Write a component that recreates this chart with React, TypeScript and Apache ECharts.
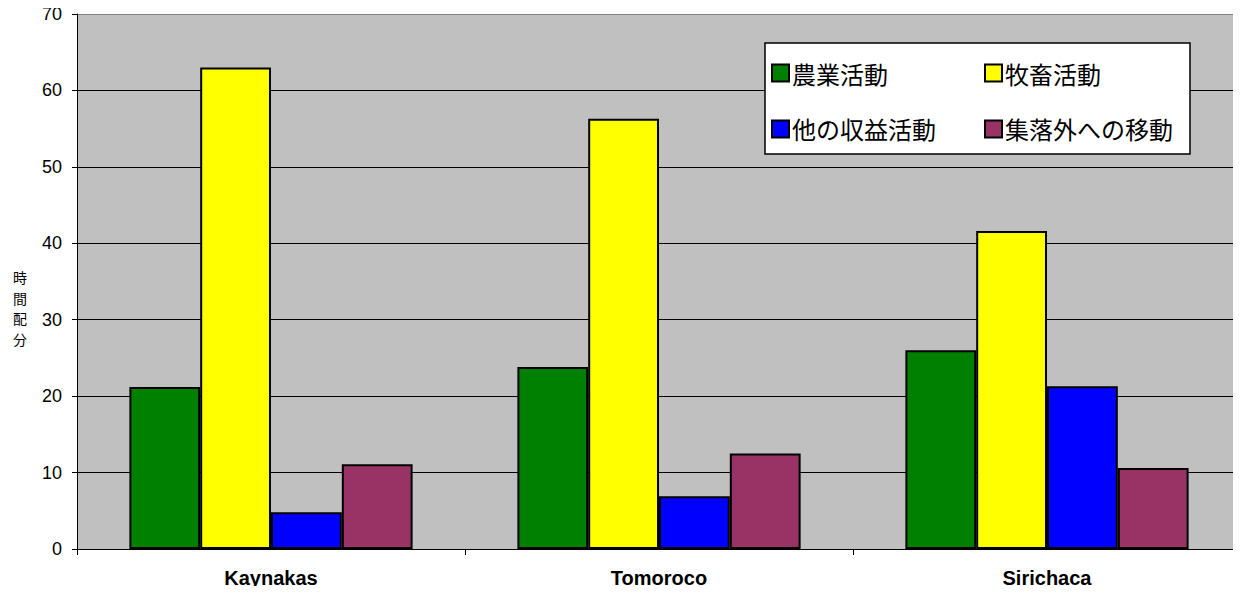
import React, { useEffect, useRef } from "react";
import * as echarts from "echarts";

// Villages and time shares (%) by activity
const villages = ["Kaynakas", "Tomoroco", "Sirichaca"];
const seriesNames = ["農業活動", "牧畜活動", "他の収益活動", "集落外への移動"];
const farming = [21.2, 23.8, 26.0];
const herding = [63.0, 56.3, 41.6];
const otherIncome = [4.8, 6.9, 21.3];
const migration = [11.1, 12.5, 10.6];
const seriesColors = ["#008000", "#ffff00", "#0000ff", "#993366"];
const yTicks = { min: 0, max: 70, interval: 10 };

const latin = "'Liberation Sans', Arial, sans-serif";
const cjk = "'Noto Sans CJK JP', 'Noto Sans CJK SC', sans-serif";

export default function App() {
  const ref = useRef<HTMLDivElement>(null);

  useEffect(() => {
    if (!ref.current) return;
    const chart = echarts.init(ref.current, undefined, { renderer: "svg" });
    const values = [farming, herding, otherIncome, migration];

    const legendCommon = {
      orient: "vertical" as const,
      itemWidth: 17,
      itemHeight: 17,
      itemGap: 32,
      icon: "rect",
      itemStyle: { borderColor: "#000", borderWidth: 2 },
      textStyle: { fontSize: 24, fontFamily: cjk, color: "#000", padding: [0, 0, 0, -2] },
      selectedMode: false,
      padding: 0,
    };

    chart.setOption({
      animation: false,
      backgroundColor: "#ffffff",
      grid: {
        left: 77,
        right: 0,
        top: 14,
        bottom: 45,
        show: true,
        backgroundColor: "#c0c0c0",
        borderWidth: 0,
      },
      graphic: [
        {
          type: "rect",
          shape: { x: 765, y: 43, width: 425, height: 111 },
          style: { fill: "#ffffff", stroke: "#000000", lineWidth: 1.5 },
          z: 5,
        },
        {
          type: "text",
          x: 20,
          y: 308,
          style: {
            text: "時\n間\n配\n分",
            fontSize: 14,
            lineHeight: 20.5,
            fontFamily: cjk,
            fill: "#000",
            align: "center",
            verticalAlign: "middle",
          },
        },
      ],
      legend: [
        { ...legendCommon, left: 771, top: 61, data: [seriesNames[0], seriesNames[2]], z: 10 },
        { ...legendCommon, left: 984, top: 61, data: [seriesNames[1], seriesNames[3]], z: 10 },
      ],
      xAxis: {
        type: "category",
        data: villages,
        axisLine: { show: true, lineStyle: { color: "#000", width: 1 } },
        axisTick: { show: true, alignWithLabel: false, length: 6, lineStyle: { color: "#000" } },
        axisLabel: {
          fontSize: 20,
          fontWeight: "bold",
          fontFamily: latin,
          color: "#000",
          margin: 19,
        },
      },
      yAxis: {
        type: "value",
        min: yTicks.min,
        max: yTicks.max,
        interval: yTicks.interval,
        axisLine: { show: true, lineStyle: { color: "#000", width: 1 } },
        axisTick: { show: true, length: 5, lineStyle: { color: "#000" } },
        axisLabel: { fontSize: 18, fontFamily: latin, color: "#000", margin: 15 },
        splitLine: {
          show: true,
          lineStyle: {
            color: ["#000", "#000", "#000", "#000", "#000", "#000", "#000", "#808080"],
            width: 1,
          },
        },
      },
      series: seriesNames.map((name, i) => ({
        name,
        type: "bar",
        data: values[i],
        barGap: "0%",
        barCategoryGap: "27%",
        itemStyle: { color: seriesColors[i], borderColor: "#000", borderWidth: 2 },
      })),
    });

    return () => chart.dispose();
  }, []);

  return <div ref={ref} style={{ width: 1241, height: 594, margin: -8 }} />;
}
